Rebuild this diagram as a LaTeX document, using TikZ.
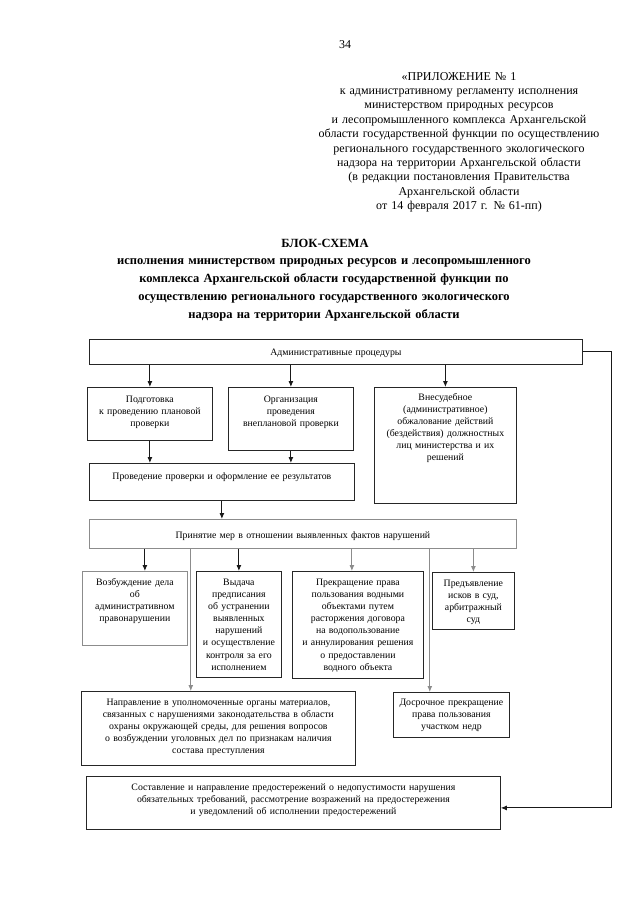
\documentclass[tikz,border=0pt]{standalone}
\usepackage{fontspec}
\setmainfont{Liberation Serif}
\usetikzlibrary{arrows.meta,positioning,calc}
\newcommand\boxfont{\fontsize{9.8}{12.1}\selectfont}
\newcommand\headfont{\fontsize{12}{14.4}\selectfont}
\newcommand\titlefont{\fontsize{12.5}{18}\selectfont\bfseries}
\tikzset{>=latex}
\tikzset{edge/.style = {-{Latex[length=6pt,width=5pt]}, black!90, line width=0.9pt}}
\tikzset{gedge/.style = {-{Latex[length=6pt,width=5pt]}, black!45, line width=0.9pt}}
\tikzset{box/.style = {draw=black!85, line width=0.8pt, anchor=north west, align=center, inner sep=0pt, font=\boxfont}}
\tikzset{gbox/.style = {box, draw=black!45}}
\begin{document}
\begin{tikzpicture}[x=1pt,y=-1pt]
\useasboundingbox[fill=white] (0,0) rectangle (640,905);

% page head
\node[font=\headfont] (str) at (345,45) {34};
\node[font=\headfont, align=center, text width=330pt, anchor=base] (pril) at (459,80)
  {«ПРИЛОЖЕНИЕ №~1\\
   к административному регламенту исполнения\\
   министерством природных ресурсов\\
   и лесопромышленного комплекса Архангельской\\
   области государственной функции по осуществлению\\
   регионального государственного экологического\\
   надзора на территории Архангельской области\\
   (в редакции постановления Правительства\\
   Архангельской области\\
   от 14 февраля 2017 г. №~61-пп)};
\node[font=\titlefont, anchor=base] (zag) at (325,247) {БЛОК-СХЕМА};
\node[font=\titlefont, align=center, text width=460pt, anchor=base] (nazv) at (324,264)
  {исполнения министерством природных ресурсов и лесопромышленного\\
   комплекса Архангельской области государственной функции по\\
   осуществлению регионального государственного экологического\\
   надзора на территории Архангельской области};

% boxes
\node[box, text width=493pt, text height=16pt, text depth=9pt] (adm) at (89,339) {Административные процедуры};
\node[box, text width=125pt, text height=15pt, text depth=38pt] (podg) at (87,387)
  {Подготовка\\ к проведению плановой\\ проверки};
\node[box, text width=125pt, text height=15pt, text depth=48pt] (vnepl) at (228,387)
  {Организация\\ проведения\\ внеплановой проверки};
\node[box, text width=142pt, text height=13pt, text depth=103pt] (obzh) at (374,387)
  {Внесудебное\\ (административное)\\ обжалование действий\\ (бездействия) должностных\\ лиц министерства и их\\ решений};
\node[box, text width=265pt, text height=16pt, text depth=21pt] (prov) at (89,463)
  {Проведение проверки и оформление ее результатов};
\node[gbox, text width=427pt, text height=19pt, text depth=10pt] (mery) at (89,519)
  {Принятие мер в отношении выявленных фактов нарушений};

\node[gbox, text width=105pt, text height=14pt, text depth=60pt] (vozb) at (82,571)
  {Возбуждение дела\\ об\\ административном\\ правонарушении};
\node[box, text width=85pt, text height=14pt, text depth=92pt] (vydacha) at (196,571)
  {Выдача\\ предписания\\ об устранении\\ выявленных\\ нарушений\\ и осуществление\\ контроля за его\\ исполнением};
\node[box, text width=131pt, text height=14pt, text depth=93pt] (prekr) at (292,571)
  {Прекращение права\\ пользования водными\\ объектами путем\\ расторжения договора\\ на водопользование\\ и аннулирования решения\\ о предоставлении\\ водного объекта};
\node[box, text width=82pt, text height=14pt, text depth=43pt] (isk) at (432,572)
  {Предъявление\\ исков в суд,\\ арбитражный\\ суд};

\node[box, text width=274pt, text height=14pt, text depth=60pt] (napr) at (81,691)
  {Направление в уполномоченные органы материалов,\\ связанных с нарушениями законодательства в области\\ охраны окружающей среды, для решения вопросов\\ о возбуждении уголовных дел по признакам наличия\\ состава преступления};
\node[box, text width=116pt, text height=13pt, text depth=32pt] (dosr) at (393,692)
  {Досрочное прекращение\\ права пользования\\ участком недр};
\node[box, text width=414pt, text height=14pt, text depth=39pt] (predost) at (86,776)
  {Составление и направление предостережений о недопустимости нарушения\\ обязательных требований, рассмотрение возражений на предостережения\\ и уведомлений об исполнении предостережений};

% connectors
\coordinate (bok) at (611,0);
\draw[edge] (adm.south -| podg) -- (podg);
\draw[edge] (adm.south -| vnepl) -- (vnepl);
\draw[edge] (adm.south -| obzh) -- (obzh);
\draw[edge] (podg.south) -- (prov.north -| podg);
\draw[edge] (vnepl.south) -- (prov.north -| vnepl);
\draw[edge] (prov.south) -- (mery.north -| prov);

\draw[edge] ([xshift=10pt]mery.south -| vozb) -- ([xshift=10pt]vozb.north);
\draw[edge] (mery.south -| vydacha) -- (vydacha.north);
\draw[gedge] ([xshift=-6pt]mery.south -| prekr) -- ([xshift=-6pt]prekr.north);
\draw[gedge] (mery.south -| isk) -- (isk.north);
\draw[gedge] ([xshift=3pt]mery.south -| vozb.east) -- ([xshift=3pt]napr.north -| vozb.east);
\draw[gedge] ([xshift=6pt]mery.south -| prekr.east) -- ([xshift=6pt]dosr.north -| prekr.east);

\draw[edge] (adm.east) -- (adm.east -| bok) |- ([yshift=-5pt]predost.east);
\end{tikzpicture}
\end{document}
